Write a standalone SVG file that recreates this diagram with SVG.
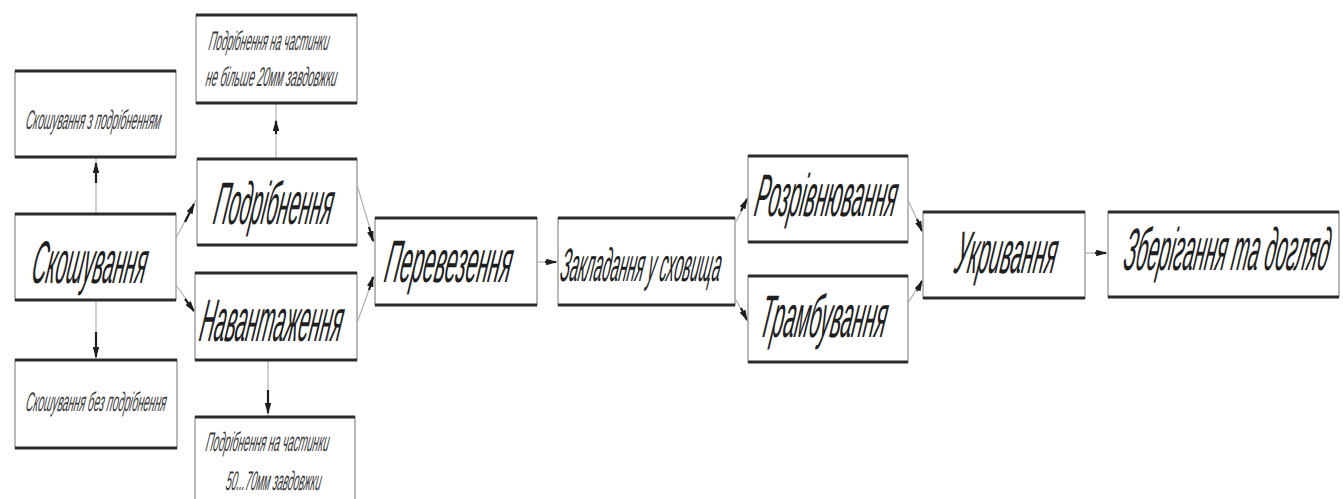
<svg xmlns="http://www.w3.org/2000/svg" width="1343" height="499" viewBox="0 0 1343 499">
<style>
.box{fill:#fff;stroke:#a8a8a8;stroke-width:1.6}
.edge{fill:none;stroke:#2b2b2b;stroke-width:3}
.t{font-family:"Liberation Sans","DejaVu Sans",sans-serif;font-style:italic;fill:#202020}
.big{font-size:60px}
.mid{font-size:47px}
.sm{font-size:27px;fill:#3a3a3a}
.ln{fill:none;stroke:#b0b0b0;stroke-width:1.2}
.ah{fill:none;stroke:#1e1e1e;stroke-width:2.2;marker-end:url(#head)}
</style>
<defs>
<marker id="head" viewBox="0 0 10 6" refX="9" refY="3" markerWidth="5" markerHeight="3" orient="auto" markerUnits="strokeWidth">
<path d="M0,0 L10,3 L0,6 Z" fill="#1e1e1e"/>
</marker>
</defs>
<rect width="1343" height="499" fill="#fff"/>

<g id="connectors">
<line class="ln" x1="96" y1="214" x2="96" y2="157"/>
<path class="ah" d="M96,183 L96,163"/>
<line class="ln" x1="276" y1="159" x2="276" y2="103"/>
<path class="ah" d="M276,134 L276,121"/>
<line class="ln" x1="96" y1="300" x2="96" y2="360"/>
<path class="ah" d="M96,332 L96,357"/>
<line class="ln" x1="268" y1="360" x2="268" y2="417"/>
<path class="ah" d="M268,390 L268,413"/>
<line class="ln" x1="176" y1="238" x2="196" y2="200"/>
<path class="ah" d="M185,222 L194,204"/>
<line class="ln" x1="176" y1="285" x2="196" y2="313"/>
<path class="ah" d="M185,299 L194,311"/>
<line class="ln" x1="357" y1="185" x2="374" y2="242"/>
<path class="ah" d="M369,227 L373,241"/>
<line class="ln" x1="357" y1="323" x2="374" y2="276"/>
<path class="ah" d="M369,290 L373,277"/>
<line class="ln" x1="537" y1="262" x2="558" y2="262"/>
<path class="ah" d="M545,262 L556,262"/>
<line class="ln" x1="736" y1="222" x2="748" y2="197"/>
<path class="ah" d="M741,211 L747,199"/>
<line class="ln" x1="736" y1="300" x2="748" y2="322"/>
<path class="ah" d="M741,308 L747,320"/>
<line class="ln" x1="908" y1="200" x2="923" y2="233"/>
<path class="ah" d="M917,219 L922,231"/>
<line class="ln" x1="908" y1="303" x2="923" y2="279"/>
<path class="ah" d="M917,291 L922,281"/>
<line class="ln" x1="1085" y1="253" x2="1108" y2="253"/>
<path class="ah" d="M1095,253 L1106,253"/>
</g>

<g id="n-skosh-z">
<rect class="box" x="15" y="71" width="161" height="86"/>
<path class="edge" d="M15,71 H176 M15,157 H176"/>
<text class="t sm" transform="translate(25,129) skewX(-10) scale(0.399,1)" textLength="338" lengthAdjust="spacingAndGlyphs">Скошування з подрібненням</text>
</g>

<g id="n-skosh">
<rect class="box" x="15" y="214" width="161" height="86"/>
<path class="edge" d="M15,214 H176 M15,300 H176"/>
<text class="t big" transform="translate(30,283) skewX(-10) scale(0.38,1)" textLength="300" lengthAdjust="spacingAndGlyphs">Скошування</text>
</g>

<g id="n-skosh-bez">
<rect class="box" x="15" y="360" width="162" height="88"/>
<path class="edge" d="M15,360 H177 M15,448 H177"/>
<text class="t sm" transform="translate(25,411) skewX(-10) scale(0.399,1)" textLength="351" lengthAdjust="spacingAndGlyphs">Скошування без подрібнення</text>
</g>

<g id="n-podr-20">
<rect class="box" x="196" y="15" width="161" height="88"/>
<path class="edge" d="M196,15 H357 M196,103 H357"/>
<text class="t sm" transform="translate(208,50) skewX(-10) scale(0.386,1)" textLength="311" lengthAdjust="spacingAndGlyphs">Подрібнення на частинки</text>
<text class="t sm" transform="translate(205,86) skewX(-10) scale(0.404,1)" textLength="324" lengthAdjust="spacingAndGlyphs">не більше 20мм завдовжки</text>
</g>

<g id="n-podr">
<rect class="box" x="197" y="159" width="160" height="86"/>
<path class="edge" d="M197,159 H357 M197,245 H357"/>
<text class="t big" transform="translate(212,224) skewX(-10) scale(0.358,1)" textLength="330" lengthAdjust="spacingAndGlyphs">Подрібнення</text>
</g>

<g id="n-navant">
<rect class="box" x="195" y="273" width="162" height="87"/>
<path class="edge" d="M195,273 H357 M195,360 H357"/>
<text class="t big" transform="translate(198,341) skewX(-10) scale(0.394,1)" textLength="360" lengthAdjust="spacingAndGlyphs">Навантаження</text>
</g>

<g id="n-podr-50">
<rect class="box" x="195" y="417" width="160" height="95"/>
<path class="edge" d="M195,417 H355"/>
<text class="t sm" transform="translate(205,451) skewX(-10) scale(0.395,1)" textLength="311" lengthAdjust="spacingAndGlyphs">Подрібнення на частинки</text>
<text class="t sm" transform="translate(225,490) skewX(-10) scale(0.37,1)" textLength="257" lengthAdjust="spacingAndGlyphs">50...70мм завдовжки</text>
</g>

<g id="n-perev">
<rect class="box" x="375" y="218" width="162" height="87"/>
<path class="edge" d="M375,218 H537 M375,305 H537"/>
<text class="t big" transform="translate(383,282) skewX(-10) scale(0.382,1)" textLength="330" lengthAdjust="spacingAndGlyphs">Перевезення</text>
</g>

<g id="n-zaklad">
<rect class="box" x="558" y="218" width="177" height="87"/>
<path class="edge" d="M558,218 H735 M558,305 H735"/>
<text class="t mid" transform="translate(559,281) skewX(-10) scale(0.34,1)" textLength="470" lengthAdjust="spacingAndGlyphs">Закладання у сховища</text>
</g>

<g id="n-rozriv">
<rect class="box" x="748" y="156" width="160" height="86"/>
<path class="edge" d="M748,156 H908 M748,242 H908"/>
<text class="t big" transform="translate(753,216) skewX(-10) scale(0.362,1)" textLength="390" lengthAdjust="spacingAndGlyphs">Розрівнювання</text>
</g>

<g id="n-tramb">
<rect class="box" x="748" y="276" width="160" height="86"/>
<path class="edge" d="M748,276 H908 M748,362 H908"/>
<text class="t big" transform="translate(758,337) skewX(-10) scale(0.382,1)" textLength="330" lengthAdjust="spacingAndGlyphs">Трамбування</text>
</g>

<g id="n-ukryv">
<rect class="box" x="923" y="212" width="162" height="86"/>
<path class="edge" d="M923,212 H1085 M923,298 H1085"/>
<text class="t big" transform="translate(953,273) skewX(-10) scale(0.374,1)" textLength="270" lengthAdjust="spacingAndGlyphs">Укривання</text>
</g>

<g id="n-zberig">
<rect class="box" x="1108" y="212" width="231" height="85"/>
<path class="edge" d="M1108,212 H1339 M1108,297 H1339"/>
<text class="t big" transform="translate(1122,270) skewX(-10) scale(0.31,1)" textLength="660" lengthAdjust="spacingAndGlyphs">Зберігання та догляд</text>
</g>
</svg>
